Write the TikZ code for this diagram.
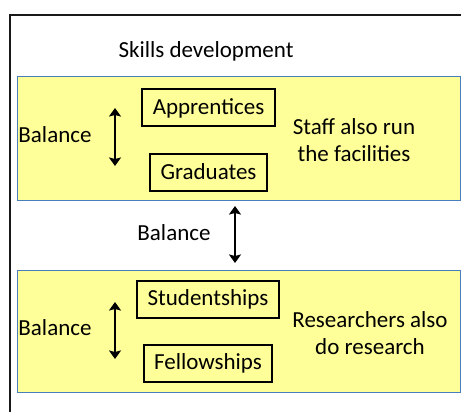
\documentclass[tikz,border=0pt]{standalone}
\usepackage{fontspec}
\setmainfont{Carlito}
\usetikzlibrary{positioning,arrows.meta}

\definecolor{panelline}{HTML}{4A7EBB}
\definecolor{panelfill}{HTML}{FFFF99}

\begin{document}
\begin{tikzpicture}[
  x=1pt,y=-1pt,
  >={Stealth[length=8.5pt,width=12pt,inset=1.5pt]},
  node distance=25pt,
  font=\fontsize{23}{27}\selectfont,
  panel/.style={draw=panelline,fill=panelfill,line width=1pt,
    minimum width=443pt,minimum height=123pt,inner sep=0pt},
  role/.style={draw,line width=2pt,inner xsep=10.5pt,inner ysep=0pt,
    minimum height=37pt},
  balance/.style={<->,line width=2pt}
]
  \useasboundingbox (0,0) rectangle (461,412);
  \draw[line width=2pt,black!90] (9.5,412) -- (9.5,15) -- (461,15);

  \node (title) at (206,51) {Skills development};

  \node[panel] (upper) at (238.5,138.5) {};
  \node[panel,minimum height=122pt] (lower) at (238.5,331) {};

  \node[role] (apprentices) at (208.5,108) {Apprentices};
  \node[role,below=of apprentices] (graduates) {Graduates};
  \node[role] (studentships) at (208,299.5) {Studentships};
  \node[role,below=of studentships] (fellowships) {Fellowships};

  \node (bal1) at (55,135) {Balance};
  \node (bal2) at (174,233) {Balance};
  \node (bal3) at (55,328) {Balance};

  \node[align=center] (staff) at (354,140) {Staff also run\\the facilities};
  \node[align=center] (researchers) at (370,333) {Researchers also\\do research};

  \coordinate (up1) at (115,108);
  \coordinate (up2) at (115,166);
  \coordinate (mid1) at (235,206);
  \coordinate (mid2) at (235,263);
  \coordinate (low1) at (115,302);
  \coordinate (low2) at (115,359);
  \draw[balance] (up1) -- (up2);
  \draw[balance] (mid1) -- (mid2);
  \draw[balance] (low1) -- (low2);
\end{tikzpicture}
\end{document}
